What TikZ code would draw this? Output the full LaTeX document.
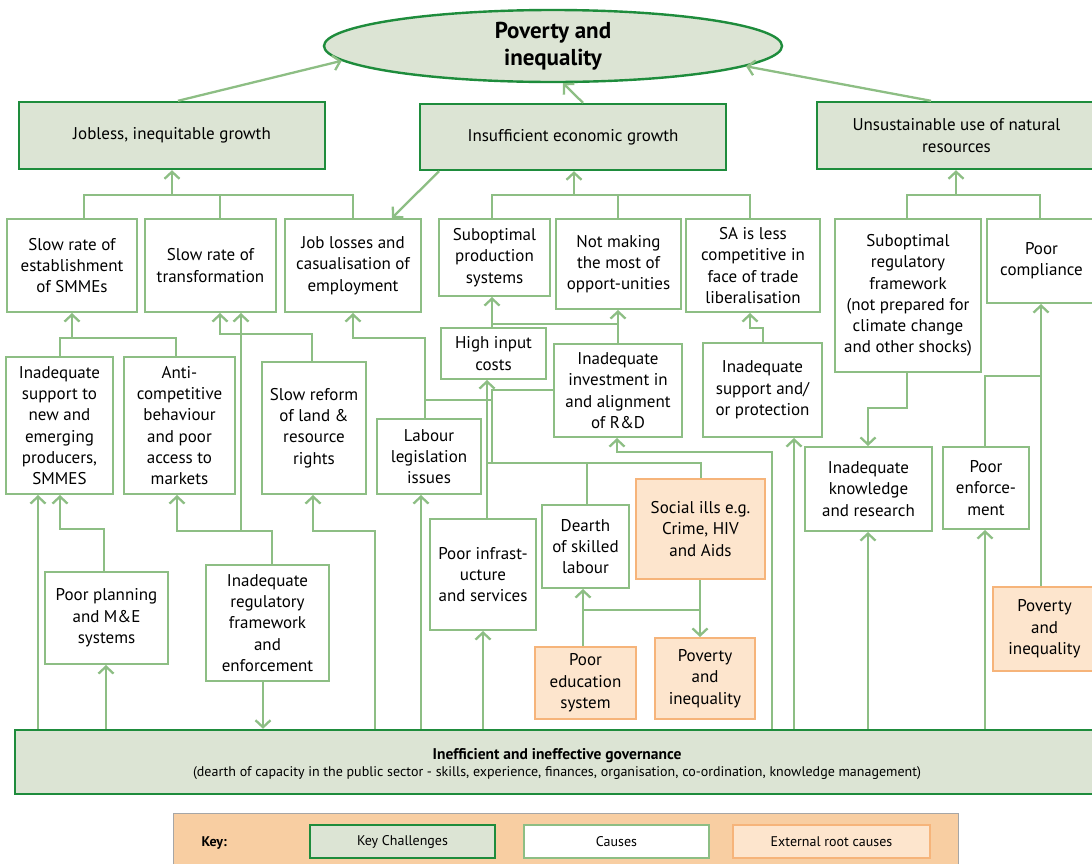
\documentclass[tikz,border=0pt]{standalone}
\usepackage{fontspec}
\setmainfont{PT Sans}
\usetikzlibrary{arrows.meta,shapes.geometric}
\definecolor{kfill}{RGB}{220,228,212}
\definecolor{kdraw}{RGB}{30,140,60}
\definecolor{lg}{RGB}{141,190,132}
\definecolor{efill}{RGB}{253,229,205}
\definecolor{edraw}{RGB}{246,180,122}
\definecolor{keybg}{RGB}{248,206,162}
\newcommand\mybox[6]{\node[#1, minimum width={(#5-#3)*1pt}, minimum height={(#6-#4)*1pt}] (#2) at ({(#3+#5)/2},{(#4+#6)/2})}
\tikzset{
  base/.style={rectangle, inner sep=0pt, align=center, font=\fontsize{17}{21.3}\selectfont},
  keych/.style={base, fill=kfill, draw=kdraw, line width=2.4pt},
  cause/.style={base, fill=white, draw=lg, line width=2pt},
  ext/.style={base, fill=efill, draw=edraw, line width=2pt},
  conn/.style={draw=lg, line width=2.3pt},
  arr/.style={conn, -{Straight Barb[length=7pt,width=15pt,line width=2.3pt]}},
}
\begin{document}
\begin{tikzpicture}[x=1pt,y=-1pt]
\useasboundingbox (0,0) rectangle (1092,863);
% top ellipse
\node[ellipse, fill=kfill, draw=kdraw, line width=2.4pt, minimum width=458pt, minimum height=72pt, inner sep=0pt, align=center, font=\fontsize{23}{27}\bfseries] (pov) at (553,46) {Poverty and\\inequality};
% key challenges
\mybox{keych}{job}{19}{102}{325}{169} {Jobless, inequitable growth};
\mybox{keych}{ins}{420}{104}{726}{170} {Insufficient economic growth};
\mybox{keych}{uns}{817}{102}{1096}{169} {Unsustainable use of natural\\resources};
% row 2
\mybox{cause}{sr1}{7}{219}{137}{312} {Slow rate of\\establishment\\of SMMEs};
\mybox{cause}{sr2}{145}{219}{276}{312} {Slow rate of\\transformation};
\mybox{cause}{jl}{285}{219}{421}{312} {Job losses and\\casualisation of\\employment};
\mybox{cause}{sps}{439}{219}{550}{296} {Suboptimal\\production\\systems};
\mybox{cause}{nm}{556}{219}{681}{309} {Not making\\the most of\\opport-unities};
\mybox{cause}{sa}{686}{219}{820}{312} {SA is less\\competitive in\\face of trade\\liberalisation};
\mybox{cause}{srf}{835}{219}{981}{372} {Suboptimal\\regulatory\\framework\\(not prepared for\\climate change\\and other shocks)};
\mybox{cause}{pc}{987}{219}{1096}{303} {Poor\\compliance};
% row 3
\mybox{cause}{sup}{6}{357}{113}{494} {Inadequate\\support to\\new and\\emerging\\producers,\\SMMES};
\mybox{cause}{anti}{124}{357}{235}{494} {Anti-\\competitive\\behaviour\\and poor\\access to\\markets};
\mybox{cause}{slr}{262}{362}{366}{494} {Slow reform\\of land \&\\resource\\rights};
\mybox{cause}{lab}{377}{419}{481}{494} {Labour\\legislation\\issues};
\mybox{cause}{hic}{441}{328}{546}{379} {High input\\costs};
\mybox{cause}{iid}{554}{344}{682}{437} {Inadequate\\investment in\\and alignment\\of R\&D};
\mybox{cause}{isp}{703}{343}{822}{437} {Inadequate\\support and/\\or protection};
\mybox{cause}{ikr}{805}{447}{932}{531} {Inadequate\\knowledge\\and research};
\mybox{cause}{pe}{943}{447}{1029}{529} {Poor\\enforce-\\ment};
% row 4
\mybox{cause}{ppl}{45}{572}{168}{664} {Poor planning\\and M\&E\\systems};
\mybox{cause}{irf}{206}{565}{329}{681} {Inadequate\\regulatory\\framework\\and\\enforcement};
\mybox{cause}{pis}{430}{519}{536}{630} {Poor infrast-\\ucture\\and services};
\mybox{cause}{dsl}{542}{505}{629}{588} {Dearth\\of skilled\\labour};
\mybox{ext}{si}{636}{479}{765}{579} {Social ills e.g.\\Crime, HIV\\and Aids};
\mybox{ext}{pes}{535}{647}{636}{719} {Poor\\education\\system};
\mybox{ext}{pi1}{655}{638}{755}{719} {Poverty\\and\\inequality};
\mybox{ext}{pi2}{993}{587}{1096}{671} {Poverty\\and\\inequality};
% governance
\mybox{keych}{gov}{15}{730}{1096}{794} {};
\node[font=\fontsize{14}{17}\selectfont, align=center] (govt) at (557,764) {{\fontsize{15.5}{17}\bfseries Inefficient and ineffective governance}\\(dearth of capacity in the public sector - skills, experience, finances, organisation, co-ordination, knowledge management)};
% key
\node[rectangle, fill=keybg, draw=gray!70, line width=1pt, minimum width=785pt, minimum height=60pt, inner sep=0pt] (keybox) at (565.5,843) {};
\node[font=\fontsize{14}{16}\bfseries, anchor=west] (keyl) at (198,843) {Key:};
\mybox{keych}{k1}{310}{825}{495}{858} {\fontsize{14}{16}\selectfont Key Challenges};
\mybox{cause}{k2}{524}{825}{709}{858} {\fontsize{14}{16}\selectfont Causes};
\mybox{ext}{k3}{733}{825}{930}{858} {\fontsize{14}{16}\selectfont External root causes};
% top arrows
\draw[arr] (job.north -| 178,0) -- (pov.184);
\draw[arr] (ins.north -| 583,0) -- (pov.south -| 563,0);
\draw[arr] (uns.north -| 931,0) -- (pov.354);
% brackets to key challenges
\draw[arr] (sr1.north -| 84,0) |- (172,195) -- (job.south -| 172,0);
\draw[conn] (jl.north -| 353,0) |- (172,195);
\draw[conn] (sr2.north -| 220,0) -- (220,195);
\draw[arr] (sps.north -| 492,0) |- (574,195) -- (ins.south -| 574,0);
\draw[conn] (sa.north -| 750,0) |- (574,195);
\draw[conn] (nm.north -| 618,0) -- (618,195);
\draw[arr] (srf.north -| 907,0) |- (956,195) -- (uns.south -| 956,0);
\draw[conn] (pc.north -| 1040,0) |- (956,195);
\draw[arr] (ins.south -| 439,0) -- (jl.north -| 392,0);
% row 3 to row 2
\draw[arr] (sup.north -| 60,0) |- (72,338) -- (sr1.south -| 72,0);
\draw[conn] (anti.north -| 176,0) |- (72,338);
\draw[arr] (slr.north -| 312,0) |- (220,334) -- (sr2.south -| 220,0);
\draw[arr] (irf.north -| 272,0) |- (177,531) -- (anti.south -| 177,0);
\coordinate (j1) at (241,531);
\draw[arr] (j1) -- (sr2.south -| 241,0);
\draw[arr] (lab.north -| 425,0) |- (353,338) -- (jl.south -| 353,0);
\coordinate (j2) at (425,400);
\draw[conn] (j2) -- (492,400);
\draw[arr] (hic.north -| 492,0) -- (sps.south -| 492,0);
\coordinate (j3) at (492,324);
\draw[conn] (j3) -- (618,324);
\draw[arr] (iid.north -| 618,0) -- (nm.south -| 618,0);
\draw[arr] (pis.north -| 487,0) -- (hic.south -| 487,0);
\draw[conn] (iid.west |- 0,390) -| (492,463);
\draw[conn] (si.north -| 701,0) |- (487,463);
\draw[conn] (dsl.north -| 587,0) -- (587,463);
\draw[arr] (gov.north -| 772,0) |- (617,452) -- (iid.south -| 617,0);
\draw[arr] (gov.north -| 794,0) -- (isp.south -| 794,0);
\draw[arr] (isp.north -| 763,0) |- (750,328) -- (sa.south -| 750,0);
\draw[arr] (pes.north -| 583,0) -- (dsl.south -| 583,0);
\draw[arr] (si.south -| 700,0) -- (pi1.north -| 700,0);
\coordinate (j4) at (583,610);
\draw[conn] (j4) -- (700,610);
% from governance
\draw[arr] (gov.north -| 38,0) -- (sup.south -| 38,0);
\draw[arr] (gov.north -| 106,0) -- (ppl.south -| 106,0);
\draw[arr] (ppl.north -| 104,0) |- (60,529) -- (sup.south -| 60,0);
\draw[arr] (irf.south -| 263,0) -- (gov.north -| 263,0);
\draw[arr] (gov.north -| 375,0) |- (313,531) -- (slr.south -| 313,0);
\draw[arr] (gov.north -| 421,0) -- (lab.south -| 421,0);
\draw[arr] (gov.north -| 483,0) -- (pis.south -| 483,0);
\draw[arr] (gov.north -| 868,0) -- (ikr.south -| 868,0);
\draw[arr] (gov.north -| 985,0) -- (pe.south -| 985,0);
\draw[arr] (srf.south -| 907,0) |- (868,408) -- (ikr.north -| 868,0);
\draw[arr] (pi2.north -| 1041,0) -- (pc.south -| 1041,0);
\draw[conn] (pe.north -| 985,0) |- (1041,376);
\end{tikzpicture}
\end{document}
